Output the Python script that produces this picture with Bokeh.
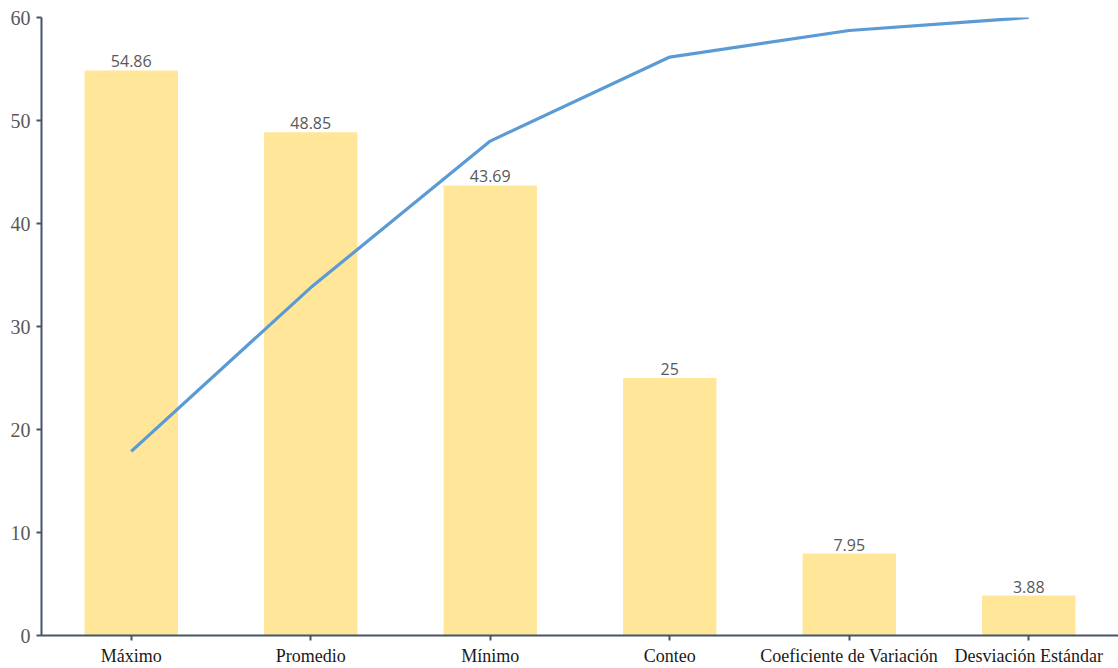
from bokeh.plotting import figure
from bokeh.models import ColumnDataSource, Range1d, LabelSet, FixedTicker
from bokeh.core.properties import value
from bokeh.embed import file_html
from bokeh.resources import INLINE

categories = ["Máximo", "Promedio", "Mínimo", "Conteo", "Coeficiente de Variación", "Desviación Estándar"]
values = [54.86, 48.85, 43.69, 25, 7.95, 3.88]
labels = ["54.86", "48.85", "43.69", "25", "7.95", "3.88"]
cum_pct = [29.8, 56.3, 80.0, 93.6, 97.9, 100.0]

src = ColumnDataSource(dict(cat=categories, val=values, lab=labels, pct=cum_pct))

p = figure(x_range=categories, y_range=Range1d(0, 60), width=1118, height=668,
           output_backend="svg", toolbar_location=None,
           min_border_left=41, min_border_right=0, min_border_top=17, min_border_bottom=33)
p.extra_y_ranges = {"pct": Range1d(0, 100)}

p.vbar(x="cat", top="val", width=0.52, source=src, color="#FFE699", line_color=None)
p.line(x="cat", y="pct", y_range_name="pct", source=src, line_color="#5B9BD5", line_width=3.2)

lbl = LabelSet(x="cat", y="val", text="lab", source=src, text_align="center",
               text_baseline="bottom", y_offset=3, text_font=value("Open Sans"),
               text_font_size="16px", text_color="#595959")
p.add_layout(lbl)

p.outline_line_color = None
p.xgrid.grid_line_color = None
p.ygrid.grid_line_color = None
p.background_fill_color = "white"

axis_color = "#44546A"
for ax in (p.xaxis[0], p.yaxis[0]):
    ax.axis_line_color = axis_color
    ax.axis_line_width = 2
    ax.major_tick_line_color = axis_color
    ax.major_tick_line_width = 2
    ax.major_tick_out = 5
    ax.major_tick_in = 0
    ax.minor_tick_line_color = None
    ax.major_label_text_font = "Liberation Serif"
    ax.major_label_text_font_size = "18px"

p.yaxis[0].ticker = FixedTicker(ticks=[0, 10, 20, 30, 40, 50, 60])
p.yaxis[0].major_label_text_font_size = "20px"
p.yaxis[0].major_label_text_color = "#595959"
p.yaxis[0].major_label_standoff = 6
p.xaxis[0].major_label_standoff = 5
p.xaxis[0].major_label_text_color = "#1a1a1a"

open("out.html", "w").write(file_html(p, INLINE))
